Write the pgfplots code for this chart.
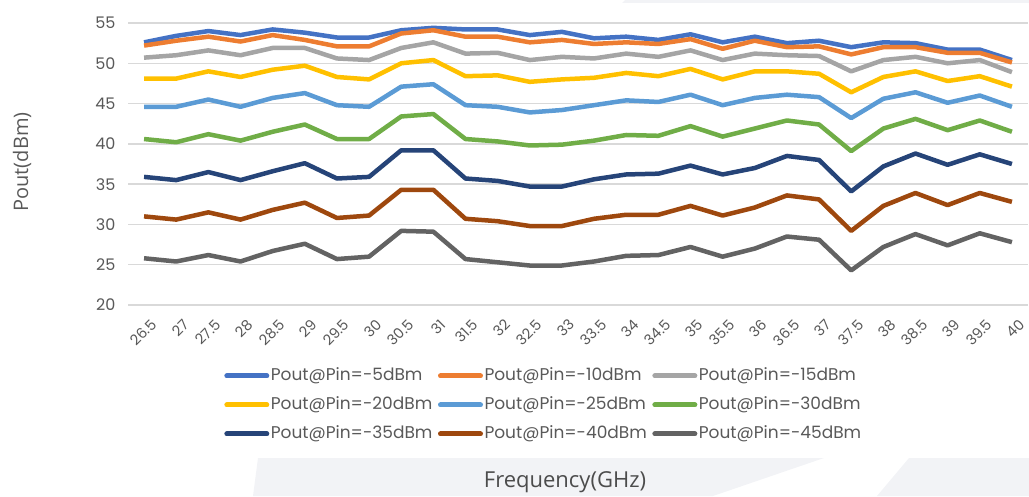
\documentclass[border=0pt]{standalone}
\usepackage{fontspec}
\usepackage{pgfplots}
\usepackage{pgfplotstable}
\pgfplotsset{compat=1.18}
\setmainfont{Poppins}
\newfontfamily\labelfont{Open Sans}

\definecolor{cA}{HTML}{4472C4}
\definecolor{cB}{HTML}{ED7D31}
\definecolor{cC}{HTML}{A5A5A5}
\definecolor{cD}{HTML}{FFC000}
\definecolor{cE}{HTML}{5B9BD5}
\definecolor{cF}{HTML}{70AD47}
\definecolor{cG}{HTML}{264478}
\definecolor{cH}{HTML}{9E480E}
\definecolor{cI}{HTML}{636363}
\definecolor{gridc}{HTML}{D9D9D9}
\definecolor{txt}{HTML}{595959}
\definecolor{band}{HTML}{F2F3F6}

% x is the category index (26.5 GHz -> 0 ... 40 GHz -> 27)
\pgfplotstableread{
x  s5   s10  s15  s20  s25  s30  s35  s40  s45
0  52.6 52.2 50.7 48.1 44.6 40.6 35.9 31.0 25.8
1  53.4 52.8 51.0 48.1 44.6 40.2 35.5 30.6 25.4
2  54.0 53.3 51.6 49.0 45.5 41.2 36.5 31.5 26.2
3  53.5 52.7 51.0 48.3 44.6 40.4 35.5 30.6 25.4
4  54.2 53.5 51.9 49.2 45.7 41.5 36.6 31.8 26.7
5  53.8 52.9 51.9 49.7 46.3 42.4 37.6 32.7 27.6
6  53.2 52.1 50.6 48.3 44.8 40.6 35.7 30.8 25.7
7  53.2 52.1 50.4 48.0 44.6 40.6 35.9 31.1 26.0
8  54.1 53.7 51.9 50.0 47.1 43.4 39.2 34.3 29.2
9  54.4 54.1 52.6 50.4 47.4 43.7 39.2 34.3 29.1
10 54.2 53.3 51.2 48.4 44.8 40.6 35.7 30.7 25.7
11 54.2 53.3 51.3 48.5 44.6 40.3 35.4 30.4 25.3
12 53.5 52.6 50.4 47.7 43.9 39.8 34.7 29.8 24.9
13 53.9 52.9 50.8 48.0 44.2 39.9 34.7 29.8 24.9
14 53.1 52.4 50.6 48.2 44.8 40.4 35.6 30.7 25.4
15 53.3 52.6 51.2 48.8 45.4 41.1 36.2 31.2 26.1
16 52.9 52.4 50.8 48.4 45.2 41.0 36.3 31.2 26.2
17 53.6 53.0 51.6 49.3 46.1 42.2 37.3 32.3 27.2
18 52.6 51.8 50.4 48.0 44.8 40.9 36.2 31.1 26.0
19 53.3 52.8 51.2 49.0 45.7 41.9 37.0 32.1 27.0
20 52.5 52.0 51.0 49.0 46.1 42.9 38.5 33.6 28.5
21 52.8 52.1 50.9 48.7 45.8 42.4 38.0 33.1 28.1
22 52.0 51.1 49.0 46.4 43.2 39.1 34.1 29.2 24.3
23 52.6 52.0 50.4 48.3 45.6 41.9 37.2 32.3 27.2
24 52.5 52.0 50.8 49.0 46.4 43.1 38.8 33.9 28.8
25 51.7 51.3 50.0 47.8 45.1 41.7 37.4 32.4 27.4
26 51.7 51.3 50.4 48.4 46.0 42.9 38.7 33.9 28.9
27 50.4 50.1 48.9 47.1 44.6 41.5 37.5 32.8 27.8
}\pout

\begin{document}
\begin{tikzpicture}
\path[use as bounding box] (0pt,0pt) rectangle (1029pt,496pt);
% faint background bands
\fill[band] (258pt,38pt) -- (824pt,38pt) -- (713pt,0pt) -- (253pt,0pt) -- cycle;
\fill[band] (909pt,38pt) -- (1029pt,38pt) -- (1029pt,0pt) -- (877pt,0pt) -- cycle;
\fill[band] (625pt,496pt) -- (1029pt,496pt) -- (1029pt,493pt) -- (622pt,493pt) -- cycle;

\begin{axis}[
    at={(128pt,191pt)}, anchor=south west,
    scale only axis,
    width=900pt, height=282pt,
    xmin=-0.5, xmax=27.5,
    ymin=20, ymax=55,
    xtick={0,...,27},
    xticklabels={26.5,27,27.5,28,28.5,29,29.5,30,30.5,31,31.5,32,32.5,33,33.5,34,34.5,35,35.5,36,36.5,37,37.5,38,38.5,39,39.5,40},
    ytick={20,25,...,55},
    ymajorgrids,
    major grid style={gridc, line width=1.5pt},
    axis line style={draw=none},
    tick style={draw=none},
    /pgf/number format/assume math mode=true,
    ticklabel style={text=txt},
    yticklabel style={font=\fontsize{16}{19}\selectfont, xshift=-9pt},
    xticklabel style={font=\fontsize{14.5}{17}\selectfont, rotate=45, anchor=east, inner sep=1pt, xshift=-4pt, yshift=-19pt},
    every axis plot/.append style={line width=4.5pt, line join=round, mark=none},
    legend columns=3,
    legend cell align=left,
    legend style={
        at={(0.4617,-0.3546)}, anchor=center,
        draw=none, fill=none,
        font=\fontsize{17}{20}\selectfont, text=txt,
        nodes={inner sep=1.5pt, text height=12pt, text depth=3pt},
        row sep=11pt,
        /tikz/every even column/.append style={column sep=4pt},
    },
    legend image code/.code={
        \draw[#1, line width=5pt, line cap=round] (0pt,0pt) -- (40pt,0pt);
    },
]
\addplot[cA] table[x=x, y=s5]  {\pout}; \addlegendentry{Pout@Pin=-5dBm}
\addplot[cB] table[x=x, y=s10] {\pout}; \addlegendentry{Pout@Pin=-10dBm}
\addplot[cC] table[x=x, y=s15] {\pout}; \addlegendentry{Pout@Pin=-15dBm}
\addplot[cD] table[x=x, y=s20] {\pout}; \addlegendentry{Pout@Pin=-20dBm}
\addplot[cE] table[x=x, y=s25] {\pout}; \addlegendentry{Pout@Pin=-25dBm}
\addplot[cF] table[x=x, y=s30] {\pout}; \addlegendentry{Pout@Pin=-30dBm}
\addplot[cG] table[x=x, y=s35] {\pout}; \addlegendentry{Pout@Pin=-35dBm}
\addplot[cH] table[x=x, y=s40] {\pout}; \addlegendentry{Pout@Pin=-40dBm}
\addplot[cI] table[x=x, y=s45] {\pout}; \addlegendentry{Pout@Pin=-45dBm}
\end{axis}

\node[rotate=90, text=txt, font=\labelfont\fontsize{20}{24}\selectfont] at (22pt,334pt) {Pout(dBm)};
\node[text=txt!85!black, font=\labelfont\fontsize{22}{26}\selectfont] at (565pt,14pt) {Frequency(GHz)};
\end{tikzpicture}
\end{document}
